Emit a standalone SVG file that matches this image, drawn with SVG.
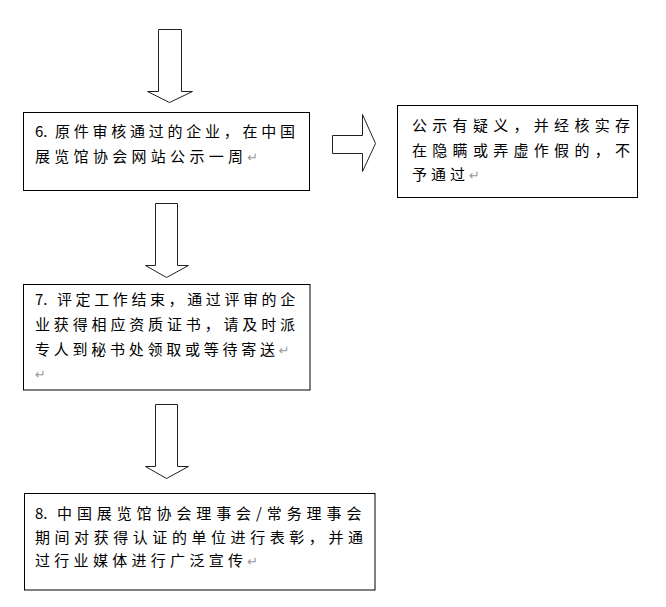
<svg xmlns="http://www.w3.org/2000/svg" width="666" height="607" viewBox="0 0 666 607">
<style>
.box{fill:#fff;stroke:#000;stroke-width:1}
.arr{fill:#fff;stroke:#222;stroke-width:1;stroke-linejoin:miter}
text{font-family:"Noto Sans CJK SC","Noto Sans",sans-serif;font-size:15px;fill:#000}
.ret{font-family:"DejaVu Sans",sans-serif;font-size:13px;fill:#999;letter-spacing:0}
</style>
<rect width="666" height="607" fill="#fff"/>
<g id="connectors">
<polygon class="arr" points="158.5,29.5 181.5,29.5 181.5,91.5 192.5,91.5 169.5,102.5 147.5,91.5 158.5,91.5"/>
<polygon class="arr" points="332.5,135.5 362.5,135.5 362.5,114.5 375.5,143.5 362.5,171.5 362.5,153.5 332.5,153.5"/>
<polygon class="arr" points="155.5,203.5 177.5,203.5 177.5,265.5 188.5,265.5 166.5,277.5 145.5,265.5 155.5,265.5"/>
<polygon class="arr" points="155.5,404.5 177.5,404.5 177.5,466.5 188.5,466.5 166.5,478.5 145.5,466.5 155.5,466.5"/>
</g>
<g id="node6">
<rect class="box" x="23.5" y="112.5" width="286" height="78"/>
<text y="137"><tspan x="35">6.</tspan><tspan x="55" letter-spacing="3.75">原件审核通过的企业，在中国</tspan></text>
<text y="162"><tspan x="35" letter-spacing="4.3">展览馆协会网站公示一周</tspan><tspan class="ret">↵</tspan></text>
</g>
<g id="node-reject">
<rect class="box" x="397.5" y="105.5" width="240" height="92"/>
<text y="131" x="412" letter-spacing="5.3">公示有疑义，并经核实存</text>
<text y="155.5" x="412" letter-spacing="5.3">在隐瞒或弄虚作假的，不</text>
<text y="179.5"><tspan x="412" letter-spacing="4">予通过</tspan><tspan class="ret">↵</tspan></text>
</g>
<g id="node7">
<rect class="box" x="23.5" y="284.5" width="286.5" height="105.5"/>
<text y="305"><tspan x="35">7.</tspan><tspan x="57" letter-spacing="3.6">评定工作结束，通过评审的企</tspan></text>
<text y="330" x="35" letter-spacing="3.85">业获得相应资质证书，请及时派</text>
<text y="355"><tspan x="35" letter-spacing="3.75">专人到秘书处领取或等待寄送</tspan><tspan class="ret">↵</tspan></text>
<text y="379"><tspan class="ret" x="35">↵</tspan></text>
</g>
<g id="node8">
<rect class="box" x="24.5" y="493.5" width="350.5" height="96.5"/>
<text y="519"><tspan x="35">8.</tspan><tspan x="57" letter-spacing="4.9">中国展览馆协会理事会/常务理事会</tspan></text>
<text y="542.5" x="35" letter-spacing="4.56">期间对获得认证的单位进行表彰，并通</text>
<text y="566"><tspan x="35" letter-spacing="4.3">过行业媒体进行广泛宣传</tspan><tspan class="ret">↵</tspan></text>
</g>
</svg>
